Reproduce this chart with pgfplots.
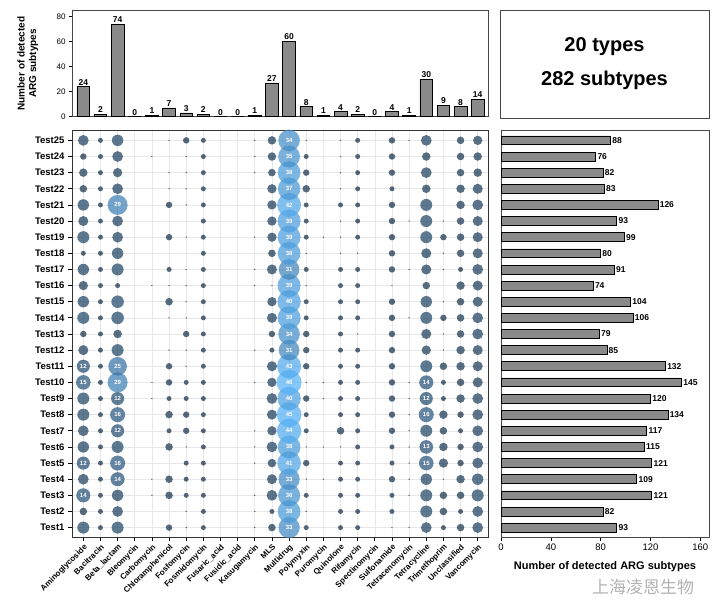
\documentclass[border=0pt]{standalone}
\usepackage{pgfplots}
\pgfplotsset{compat=1.18}
\usepackage{pgfplotstable}
\usepackage{fontspec}
\setmainfont{Liberation Sans}
\newfontfamily\cjk{Noto Sans CJK SC}
\definecolor{barfill}{RGB}{138,138,138}
\definecolor{framec}{RGB}{70,70,70}

\pgfplotstableread[row sep=\\]{
x y v\\
0 1 10\\ 0 2 4\\ 0 3 14\\ 0 4 8\\ 0 5 12\\ 0 6 9\\ 0 7 8\\ 0 8 10\\ 0 9 10\\ 0 10 15\\ 0 11 12\\ 0 12 7\\ 0 13 3\\ 0 14 10\\ 0 15 9\\ 0 16 6\\ 0 17 9\\ 0 18 2\\ 0 19 10\\ 0 20 7\\ 0 21 9\\ 0 22 4\\ 0 23 5\\ 0 24 3\\ 0 25 8\\
1 1 2\\ 1 2 2\\ 1 3 2\\ 1 4 2\\ 1 5 2\\ 1 6 2\\ 1 7 2\\ 1 8 2\\ 1 9 2\\ 1 10 2\\ 1 11 2\\ 1 12 2\\ 1 13 2\\ 1 14 2\\ 1 15 2\\ 1 16 2\\ 1 17 2\\ 1 18 2\\ 1 19 2\\ 1 20 2\\ 1 21 2\\ 1 22 2\\ 1 23 2\\ 1 24 2\\ 1 25 2\\
2 1 10\\ 2 2 8\\ 2 3 9\\ 2 4 14\\ 2 5 16\\ 2 6 10\\ 2 7 12\\ 2 8 16\\ 2 9 12\\ 2 10 29\\ 2 11 25\\ 2 12 10\\ 2 13 5\\ 2 14 11\\ 2 15 11\\ 2 16 2\\ 2 17 10\\ 2 18 9\\ 2 19 8\\ 2 20 8\\ 2 21 29\\ 2 22 8\\ 2 23 6\\ 2 24 8\\ 2 25 9\\
4 3 1\\ 4 4 1\\ 4 9 1\\ 4 10 1\\ 4 16 1\\ 4 24 1\\
5 1 3\\ 5 3 4\\ 5 4 4\\ 5 6 4\\ 5 7 2\\ 5 8 4\\ 5 9 2\\ 5 10 3\\ 5 11 3\\ 5 12 1\\ 5 14 1\\ 5 15 4\\ 5 16 1\\ 5 17 2\\ 5 19 3\\ 5 21 3\\ 5 22 1\\ 5 23 1\\ 5 25 1\\
6 1 1\\ 6 2 1\\ 6 3 2\\ 6 4 2\\ 6 5 2\\ 6 6 1\\ 6 7 3\\ 6 8 3\\ 6 9 2\\ 6 10 2\\ 6 11 1\\ 6 12 1\\ 6 13 3\\ 6 14 1\\ 6 15 1\\ 6 16 1\\ 6 17 1\\ 6 19 1\\ 6 21 1\\ 6 22 1\\ 6 23 1\\ 6 24 1\\ 6 25 3\\
7 1 2\\ 7 2 2\\ 7 3 2\\ 7 4 2\\ 7 5 2\\ 7 6 2\\ 7 7 2\\ 7 8 2\\ 7 9 2\\ 7 10 2\\ 7 11 2\\ 7 12 2\\ 7 13 2\\ 7 14 2\\ 7 15 2\\ 7 16 2\\ 7 17 2\\ 7 18 2\\ 7 19 2\\ 7 20 2\\ 7 21 2\\ 7 22 2\\ 7 23 2\\ 7 24 2\\ 7 25 2\\
10 1 1\\ 10 2 1\\ 10 3 1\\ 10 5 1\\ 10 6 1\\ 10 7 1\\ 10 10 1\\ 10 12 1\\ 10 16 1\\ 10 17 1\\ 10 19 1\\ 10 23 1\\ 10 24 1\\ 10 25 1\\
11 1 4\\ 11 2 2\\ 11 3 8\\ 11 4 7\\ 11 5 5\\ 11 6 8\\ 11 7 6\\ 11 8 7\\ 11 9 8\\ 11 10 6\\ 11 11 7\\ 11 12 2\\ 11 13 3\\ 11 14 7\\ 11 15 6\\ 11 16 1\\ 11 17 7\\ 11 18 4\\ 11 19 6\\ 11 20 6\\ 11 21 6\\ 11 22 6\\ 11 23 4\\ 11 24 5\\ 11 25 5\\
12 1 33\\ 12 2 38\\ 12 3 36\\ 12 4 33\\ 12 5 41\\ 12 6 38\\ 12 7 44\\ 12 8 45\\ 12 9 40\\ 12 10 46\\ 12 11 43\\ 12 12 31\\ 12 13 34\\ 12 14 39\\ 12 15 40\\ 12 16 39\\ 12 17 31\\ 12 18 38\\ 12 19 39\\ 12 20 39\\ 12 21 42\\ 12 22 37\\ 12 23 38\\ 12 24 35\\ 12 25 34\\
13 1 2\\ 13 2 1\\ 13 3 2\\ 13 4 1\\ 13 5 3\\ 13 6 1\\ 13 7 2\\ 13 8 2\\ 13 9 3\\ 13 10 1\\ 13 11 3\\ 13 12 3\\ 13 13 3\\ 13 14 2\\ 13 15 2\\ 13 16 1\\ 13 17 2\\ 13 18 1\\ 13 19 2\\ 13 20 2\\ 13 21 2\\ 13 22 4\\ 13 23 3\\ 13 24 2\\ 13 25 1\\
14 4 1\\ 14 6 1\\ 14 9 1\\ 14 10 1\\ 14 19 1\\
15 1 2\\ 15 2 2\\ 15 3 2\\ 15 4 2\\ 15 5 2\\ 15 6 1\\ 15 7 4\\ 15 8 2\\ 15 9 2\\ 15 10 2\\ 15 11 2\\ 15 12 2\\ 15 13 2\\ 15 14 2\\ 15 15 2\\ 15 16 2\\ 15 17 2\\ 15 18 1\\ 15 19 1\\ 15 20 1\\ 15 21 2\\ 15 22 1\\ 15 23 1\\ 15 24 1\\ 15 25 1\\
16 1 2\\ 16 2 2\\ 16 3 2\\ 16 4 2\\ 16 5 2\\ 16 6 2\\ 16 7 2\\ 16 8 2\\ 16 9 2\\ 16 10 2\\ 16 11 2\\ 16 12 2\\ 16 13 1\\ 16 14 2\\ 16 15 2\\ 16 16 2\\ 16 17 2\\ 16 18 1\\ 16 19 2\\ 16 20 2\\ 16 21 2\\ 16 22 2\\ 16 23 2\\ 16 24 2\\ 16 25 2\\
18 1 1\\ 18 2 2\\ 18 3 2\\ 18 4 3\\ 18 5 2\\ 18 6 2\\ 18 7 3\\ 18 8 3\\ 18 9 3\\ 18 10 3\\ 18 11 3\\ 18 12 3\\ 18 13 3\\ 18 14 3\\ 18 15 3\\ 18 16 1\\ 18 17 3\\ 18 18 3\\ 18 19 3\\ 18 20 3\\ 18 21 3\\ 18 22 2\\ 18 23 3\\ 18 24 3\\ 18 25 3\\
19 1 1\\ 19 3 1\\ 19 4 1\\ 19 5 1\\ 19 6 1\\ 19 7 1\\ 19 8 1\\ 19 9 1\\ 19 10 1\\ 19 14 1\\ 19 17 1\\ 19 20 1\\ 19 25 1\\
20 1 8\\ 20 2 10\\ 20 3 10\\ 20 4 9\\ 20 5 15\\ 20 6 13\\ 20 7 10\\ 20 8 16\\ 20 9 12\\ 20 10 14\\ 20 11 10\\ 20 12 6\\ 20 13 7\\ 20 14 10\\ 20 15 9\\ 20 16 4\\ 20 17 7\\ 20 18 7\\ 20 19 10\\ 20 20 10\\ 20 21 10\\ 20 22 5\\ 20 23 8\\ 20 24 5\\ 20 25 8\\
21 1 2\\ 21 2 4\\ 21 3 4\\ 21 4 1\\ 21 5 6\\ 21 6 5\\ 21 7 4\\ 21 8 5\\ 21 9 2\\ 21 10 2\\ 21 11 4\\ 21 12 1\\ 21 13 1\\ 21 14 3\\ 21 15 1\\ 21 17 1\\ 21 18 1\\ 21 19 3\\ 21 20 1\\
22 1 4\\ 22 2 2\\ 22 3 4\\ 22 4 5\\ 22 5 3\\ 22 6 3\\ 22 7 2\\ 22 8 3\\ 22 9 5\\ 22 10 4\\ 22 11 5\\ 22 12 5\\ 22 13 4\\ 22 14 4\\ 22 15 4\\ 22 16 5\\ 22 17 2\\ 22 18 4\\ 22 19 4\\ 22 20 4\\ 22 21 5\\ 22 22 5\\ 22 23 4\\ 22 24 4\\ 22 25 4\\
23 1 8\\ 23 2 8\\ 23 3 10\\ 23 4 9\\ 23 5 8\\ 23 6 8\\ 23 7 8\\ 23 8 8\\ 23 9 8\\ 23 10 7\\ 23 11 7\\ 23 12 7\\ 23 13 8\\ 23 14 8\\ 23 15 7\\ 23 16 7\\ 23 17 8\\ 23 18 7\\ 23 19 7\\ 23 20 7\\ 23 21 8\\ 23 22 7\\ 23 23 5\\ 23 24 5\\ 23 25 6\\
}\bubbles

\begin{document}
\begin{tikzpicture}[x=1pt,y=1pt]
\path[use as bounding box] (0,0) rectangle (716,615);

% ---------- top bar chart ----------
\begin{axis}[
  at={(72pt,498.3pt)}, anchor=south west, scale only axis,
  width=416pt, height=106.4pt,
  xmin=-0.66, xmax=23.6, ymin=0, ymax=85,
  xtick=\empty, ytick={0,20,40,60,80}, ytick pos=left,
  tick align=outside, major tick length=3pt,
  tick style={black, line width=0.6pt},
  axis line style={framec, line width=0.7pt},
  /pgf/number format/assume math mode=true,
  yticklabel style={font=\fontsize{8}{9}\selectfont},
  ylabel={Number of detected\\ARG subtypes},
  ylabel style={align=center, font=\bfseries\fontsize{10}{11.5}\selectfont,
    at={(axis description cs:-0.073,0.5)}, anchor=south},
  ybar, bar width=0.74,
  nodes near coords,
  every node near coord/.append style={font=\bfseries\fontsize{8.5}{9}\selectfont, inner sep=1.2pt},
]
\addplot[fill=barfill, draw=black, line width=0.7pt] coordinates {
(0,24) (1,2) (2,74) (3,0) (4,1) (5,7) (6,3) (7,2) (8,0) (9,0) (10,1) (11,27)
(12,60) (13,8) (14,1) (15,4) (16,2) (17,0) (18,4) (19,1) (20,30) (21,9) (22,8) (23,14)};
\end{axis}

% ---------- summary box ----------
\draw[framec, line width=0.7pt] (500,497) rectangle (709,605);
\node[font=\bfseries\fontsize{20}{22}\selectfont] at (604.5,568) {20 types};
\node[font=\bfseries\fontsize{20}{22}\selectfont] at (604.5,535) {282 subtypes};

% ---------- bubble chart ----------
\begin{axis}[
  at={(72pt,77.7pt)}, anchor=south west, scale only axis,
  width=416pt, height=406.6pt,
  xmin=-0.66, xmax=23.6, ymin=0.4, ymax=25.6,
  xtick={0,...,23}, ytick={1,...,25},
  xticklabels={Aminoglycoside,Bacitracin,Beta\_lactam,Bleomycin,Carbomycin,Chloramphenicol,Fosfomycin,Fosmidomycin,Fusaric\_acid,Fusidic\_acid,Kasugamycin,MLS,Multidrug,Polymyxin,Puromycin,Quinolone,Rifamycin,Spectinomycin,Sulfonamide,Tetracenomycin,Tetracycline,Trimethoprim,Unclassified,Vancomycin},
  yticklabels={Test1,Test2,Test3,Test4,Test5,Test6,Test7,Test8,Test9,Test10,Test11,Test12,Test13,Test14,Test15,Test16,Test17,Test18,Test19,Test20,Test21,Test22,Test23,Test24,Test25},
  xtick pos=bottom, ytick pos=left,
  tick align=outside, major tick length=4pt,
  tick style={black, line width=0.8pt},
  axis line style={black!80, line width=0.8pt},
  grid=major, major grid style={black!9, line width=0.6pt},
  xticklabel style={rotate=45, anchor=north east, font=\bfseries\fontsize{8}{9}\selectfont, inner sep=1.5pt},
  yticklabel style={font=\bfseries\fontsize{9.5}{10}\selectfont},
  /pgf/number format/assume math mode=true,
  colormap={gg}{rgb255=(19,43,67) rgb255=(86,177,247)},
  point meta min=1, point meta max=46,
]
\addplot[scatter, only marks, mark=*,
  point meta=\thisrow{v},
  scatter/use mapped color={draw opacity=0, fill=mapped color, fill opacity=0.72},
  visualization depends on={0.75+1.75*sqrt(max(\thisrow{v}-1,0)) \as \rad},
  scatter/@pre marker code/.append style={/tikz/mark size=\rad},
] table[x=x, y=y] {\bubbles};
\addplot[only marks, mark=*, mark size=0.01pt,
  mark options={draw opacity=0, fill opacity=0},
  point meta=\thisrow{v},
  restrict expr to domain={\thisrow{v}}{11.5:100},
  nodes near coords,
  every node near coord/.append style={anchor=center, text=white, inner sep=0pt,
     text opacity=1, font=\bfseries\fontsize{6}{6}\selectfont},
] table[x=x, y=y] {\bubbles};
\end{axis}

% ---------- right bar chart ----------
\begin{axis}[
  at={(501pt,77.7pt)}, anchor=south west, scale only axis,
  width=208pt, height=406.6pt,
  xmin=0, xmax=167, ymin=0.4, ymax=25.6,
  ytick=\empty, xtick={0,40,80,120,160}, xtick pos=bottom,
  tick align=outside, major tick length=3.5pt,
  tick style={black, line width=0.6pt},
  axis line style={framec, line width=0.7pt},
  /pgf/number format/assume math mode=true,
  xticklabel style={font=\fontsize{9.5}{10}\selectfont},
  xlabel={Number of detected ARG subtypes},
  xlabel style={font=\bfseries\fontsize{11}{12}\selectfont, yshift=-4pt},
  xbar, bar width=0.55,
  nodes near coords,
  every node near coord/.append style={font=\bfseries\fontsize{8.5}{9}\selectfont, inner sep=1.5pt},
]
\addplot[fill=barfill, draw=black, line width=0.7pt] coordinates {
(93,1) (82,2) (121,3) (109,4) (121,5) (115,6) (117,7) (134,8) (120,9) (145,10)
(132,11) (85,12) (79,13) (106,14) (104,15) (74,16) (91,17) (80,18) (99,19) (93,20)
(126,21) (83,22) (82,23) (76,24) (88,25)};
\end{axis}

\node[text=black!30, font=\cjk\fontsize{17}{18}\selectfont] at (643,28) {上海凌恩生物};
\end{tikzpicture}
\end{document}
